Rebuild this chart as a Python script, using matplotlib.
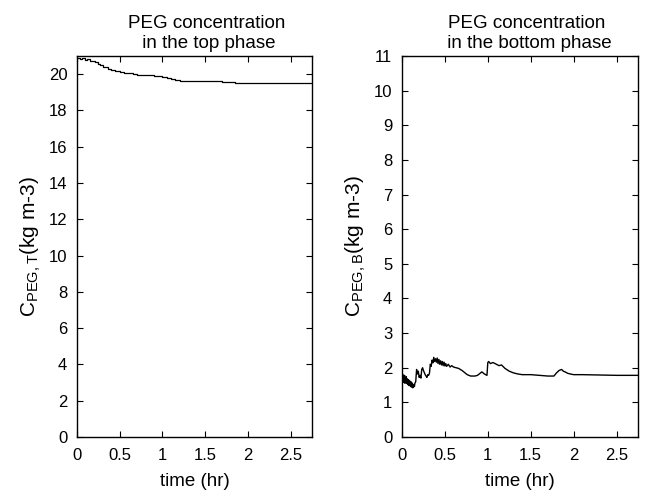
import matplotlib
matplotlib.use("Agg")
import matplotlib.pyplot as plt

plt.rcParams['font.family'] = ['Liberation Sans', 'DejaVu Sans']
plt.rcParams['mathtext.default'] = 'regular'

# time (hr) and top-phase PEG concentration (kg m-3)
t_top = [0.00, 0.03, 0.06, 0.09, 0.12, 0.15, 0.18, 0.21, 0.24, 0.27, 0.30, 0.33,
         0.36, 0.40, 0.45, 0.50, 0.55, 0.60, 0.65, 0.70, 0.75, 0.80, 0.85, 0.90,
         0.95, 1.00, 1.05, 1.10, 1.15, 1.20, 1.30, 1.40, 1.50, 1.60, 1.70, 1.80,
         1.85, 1.90, 2.00, 2.20, 2.40, 2.60, 2.75]
c_top = [20.90, 20.85, 20.88, 20.80, 20.82, 20.75, 20.70, 20.65, 20.55, 20.50, 20.42, 20.38,
         20.30, 20.25, 20.18, 20.12, 20.08, 20.05, 20.02, 19.98, 19.95, 19.95, 19.93, 19.92,
         19.88, 19.85, 19.80, 19.75, 19.68, 19.62, 19.60, 19.60, 19.60, 19.60, 19.58, 19.56,
         19.52, 19.50, 19.50, 19.50, 19.50, 19.50, 19.50]

# time (hr) and bottom-phase PEG concentration (kg m-3)
t_bot = [0.000, 0.005, 0.010, 0.015, 0.020, 0.025, 0.030, 0.035, 0.040, 0.045,
         0.050, 0.055, 0.060, 0.065, 0.070, 0.075, 0.080, 0.085, 0.090, 0.095,
         0.100, 0.105, 0.110, 0.115, 0.120, 0.125, 0.130, 0.135, 0.140, 0.145,
         0.150, 0.160, 0.170, 0.180, 0.190, 0.200, 0.210, 0.220, 0.230, 0.240,
         0.250, 0.260, 0.270, 0.280, 0.290, 0.300, 0.310, 0.320, 0.330, 0.340,
         0.350, 0.360, 0.370, 0.380, 0.390, 0.400, 0.410, 0.420, 0.430, 0.440,
         0.450, 0.460, 0.470, 0.480, 0.490, 0.500, 0.510, 0.520, 0.540, 0.560,
         0.580, 0.600, 0.630, 0.660, 0.700, 0.730, 0.760, 0.800, 0.850, 0.880,
         0.900, 0.930, 0.960, 0.990, 1.000, 1.010, 1.030, 1.060, 1.100, 1.130,
         1.160, 1.200, 1.250, 1.300, 1.350, 1.400, 1.500, 1.600, 1.700, 1.770,
         1.800, 1.830, 1.860, 1.880, 1.900, 1.930, 1.960, 2.000, 2.100, 2.300,
         2.500, 2.750]
c_bot = [1.75, 1.62, 1.80, 1.58, 1.72, 1.60, 1.78, 1.55, 1.70, 1.58,
         1.74, 1.55, 1.68, 1.52, 1.66, 1.50, 1.64, 1.48, 1.62, 1.50,
         1.60, 1.45, 1.58, 1.44, 1.55, 1.42, 1.52, 1.44, 1.50, 1.46,
         1.55, 1.60, 1.95, 1.82, 1.90, 1.72, 1.78, 1.70, 1.95, 2.00,
         1.92, 1.86, 1.80, 1.76, 1.72, 1.80, 1.78, 1.84, 2.10, 2.04,
         2.22, 2.14, 2.30, 2.18, 2.26, 2.16, 2.28, 2.12, 2.24, 2.10,
         2.20, 2.08, 2.18, 2.06, 2.16, 2.05, 2.12, 2.04, 2.10, 2.02,
         2.06, 2.02, 2.00, 1.98, 1.92, 1.86, 1.80, 1.76, 1.76, 1.78,
         1.82, 1.88, 1.82, 1.78, 2.15, 2.18, 2.12, 2.15, 2.10, 2.06,
         2.08, 1.98, 1.90, 1.85, 1.82, 1.80, 1.80, 1.78, 1.76, 1.76,
         1.85, 1.92, 1.95, 1.90, 1.88, 1.84, 1.82, 1.80, 1.80, 1.79,
         1.78, 1.78]

top_yticks = [0, 2, 4, 6, 8, 10, 12, 14, 16, 18, 20]
bot_yticks = list(range(0, 12))
xticks = [0, 0.5, 1, 1.5, 2, 2.5]
xticklabels = ['0', '0.5', '1', '1.5', '2', '2.5']

W, H = 645, 494
top, bottom = 56, 437
fig = plt.figure(figsize=(W / 100, H / 100), dpi=100)
ax1 = fig.add_axes([77 / W, 1 - bottom / H, (312 - 77) / W, (bottom - top) / H])
ax2 = fig.add_axes([402 / W, 1 - bottom / H, (638 - 402) / W, (bottom - top) / H])

for ax in (ax1, ax2):
    ax.set_xlim(0, 2.75)
    ax.set_xticks(xticks)
    ax.set_xticklabels(xticklabels)
    ax.tick_params(direction='in', top=True, right=True, length=4, width=0.8,
                   labelsize=12)
    ax.tick_params(axis='x', pad=8)
    ax.tick_params(axis='y', pad=7)
    ax.set_xlabel('time (hr)', fontsize=13.5, labelpad=7)
    for s in ax.spines.values():
        s.set_linewidth(1.0)

ax1.plot(t_top, c_top, color='black', lw=0.9, drawstyle='steps-post')
ax1.set_ylim(0, 21)
ax1.set_yticks(top_yticks)
ax1.set_title('PEG concentration\n in the top phase', fontsize=13.5, pad=6, x=0.55)
ax1.set_ylabel(r'C$_{PEG,T}$(kg m-3)', fontsize=15)
ax1.yaxis.set_label_coords(-34 / 235, 0.5)

ax2.plot(t_bot, c_bot, color='black', lw=1.0)
ax2.set_ylim(0, 11)
ax2.set_yticks(bot_yticks)
ax2.set_title('PEG concentration\n in the bottom phase', fontsize=13.5, pad=6, x=0.53)
ax2.set_ylabel(r'C$_{PEG,B}$(kg m-3)', fontsize=15)
ax2.yaxis.set_label_coords(-34 / 236, 0.5)

fig.savefig('out.png', dpi=100)
